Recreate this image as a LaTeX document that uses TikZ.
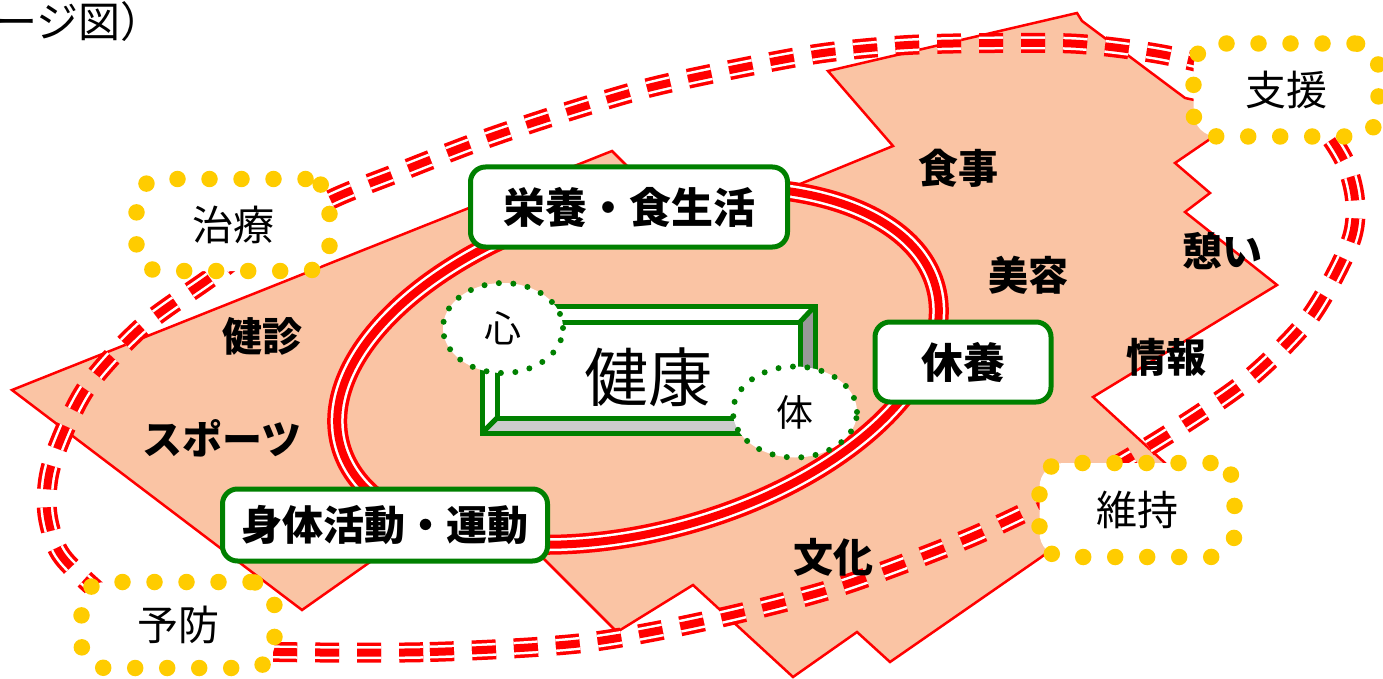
\documentclass[tikz,border=0pt]{standalone}
\usepackage{fontspec}
\newfontfamily\jp{Noto Sans CJK JP}
\usetikzlibrary{shapes.geometric}
\newcommand\myfs[1]{\fontsize{#1}{#1}\selectfont}
\definecolor{peach}{RGB}{250,196,164}
\definecolor{grn}{RGB}{0,128,0}
\definecolor{ylw}{RGB}{255,204,0}
\definecolor{gdark}{RGB}{153,153,153}
\definecolor{glight}{RGB}{204,204,204}
\begin{document}
\begin{tikzpicture}[x=1pt,y=-1pt,
  lbl/.style={font=\jp\bfseries\myfs{40}, inner sep=0pt},
  gbox/.style={draw=grn, line width=5pt, fill=white, rounded corners=15pt, inner sep=0pt, font=\jp\bfseries\myfs{42}},
  ybox/.style={draw=ylw, line width=16.5pt, line cap=round, dash pattern=on 0pt off 32pt, rounded corners=24pt, fill=white, inner sep=0pt, font=\jp\myfs{41}},
  gell/.style={ellipse, draw=grn, line width=6pt, line cap=round, dash pattern=on 0pt off 14.5pt, fill=white, inner sep=0pt, font=\jp\myfs{37}},
  tripdash/.style={draw=red, line width=20pt, dash pattern=on 24pt off 18pt,
     postaction={draw=white, line width=13pt, dash pattern=on 24pt off 18pt},
     postaction={draw=red, line width=8pt, dash pattern=on 24pt off 18pt}},
  tripsolid/.style={draw=red, line width=20pt,
     postaction={draw=white, line width=13pt},
     postaction={draw=red, line width=8pt}},
  bevel/.style={draw=grn, line width=5pt, line join=miter}
]
\useasboundingbox (0,0) rectangle (1383,679);

% title fragment
\node[anchor=west, inner sep=0pt, font=\jp\myfs{42}] (title) at (-5,22) {ージ図）};

% peach polygon
\filldraw[fill=peach, draw=red, line width=2.5pt, line join=miter]
  (12,390) -- (612,151) -- (690,229) -- (893,146) -- (828,71) -- (1077,13) -- (1082,21)
  -- (1185,98) -- (1240,110) -- (1213,137) -- (1175,163) -- (1210,193) -- (1185,212)
  -- (1277,285) -- (1093,397) -- (1165,463) -- (1172,472) -- (1048,552) -- (1040,558)
  -- (890,662) -- (857,632) -- (793,677) -- (693,585) -- (617,632) -- (540,555)
  -- (380,555) -- (302,610) -- cycle;

% red triple dashed loop
\path[tripdash] plot[smooth cycle] coordinates {
  (280,652) (430,652) (583,643) (710,620) (835,588) (957,543) (1030,510) (1100,475)
  (1178,428) (1250,378) (1310,317) (1350,243) (1355,200) (1343,158) (1310,115)
  (1240,75) (1165,55) (1080,44) (995,43) (908,45) (823,53) (740,68) (648,88)
  (557,115) (477,142) (397,173) (330,200) (260,240) (210,278) (142,327) (85,390)
  (52,463) (47,510) (58,550) (83,578) (140,625) (200,648)};

% red triple ring
\path[tripsolid, rotate around={14.8:(638,366)}] (638,366) ellipse [x radius=308, y radius=166];

% bevel box
\coordinate (o1) at (482,306); \coordinate (o2) at (815,306);
\coordinate (o3) at (815,433); \coordinate (o4) at (482,433);
\coordinate (i1) at (497,322); \coordinate (i2) at (800,322);
\coordinate (i3) at (800,418); \coordinate (i4) at (497,418);
\fill[white] (o1) rectangle (o3);
\fill[gdark] (o2) -- (o3) -- (i3) -- (i2) -- cycle;
\fill[glight] (o4) -- (o3) -- (i3) -- (i4) -- cycle;
\draw[bevel] (o1) rectangle (o3);
\draw[bevel] (i1) rectangle (i3);
\draw[bevel] (o1) -- (i1) (o2) -- (i2) (o3) -- (i3) (o4) -- (i4);
\node[inner sep=0pt, font=\jp\myfs{64}] (kenko) at (648,377) {健康};

% dotted ellipses
\node[gell, minimum width=120pt, minimum height=90pt] (kokoro) at (503,328) {心};
\node[gell, minimum width=124pt, minimum height=91pt] (karada) at (795,412) {体};

% green boxes
\node[gbox, minimum width=317pt, minimum height=80pt] (eiyo) at (629,207) {栄養・食生活};
\node[gbox, minimum width=176pt, minimum height=80pt] (kyuyo) at (963,362) {休養};
\node[gbox, minimum width=325pt, minimum height=72pt, font=\jp\bfseries\myfs{41}] (shintai) at (385,525) {身体活動・運動};

% yellow dotted boxes
\node[ybox, minimum width=193pt, minimum height=92pt] (chiryo) at (233,225) {治療};
\node[ybox, minimum width=185pt, minimum height=93pt] (shien) at (1286,90) {支援};
\node[ybox, minimum width=195pt, minimum height=94pt] (iji) at (1137,510) {維持};
\node[ybox, minimum width=193pt, minimum height=86pt] (yobo) at (178,625) {予防};

% labels
\node[lbl] (shokuji) at (958,168) {食事};
\node[lbl] (biyo) at (1028,275) {美容};
\node[lbl] (ikoi) at (1222,251) {憩い};
\node[lbl] (joho) at (1166,357) {情報};
\node[lbl] (kenshin) at (262,336) {健診};
\node[lbl] (sports) at (222,438) {スポーツ};
\node[lbl] (bunka) at (833,557) {文化};
\end{tikzpicture}
\end{document}
